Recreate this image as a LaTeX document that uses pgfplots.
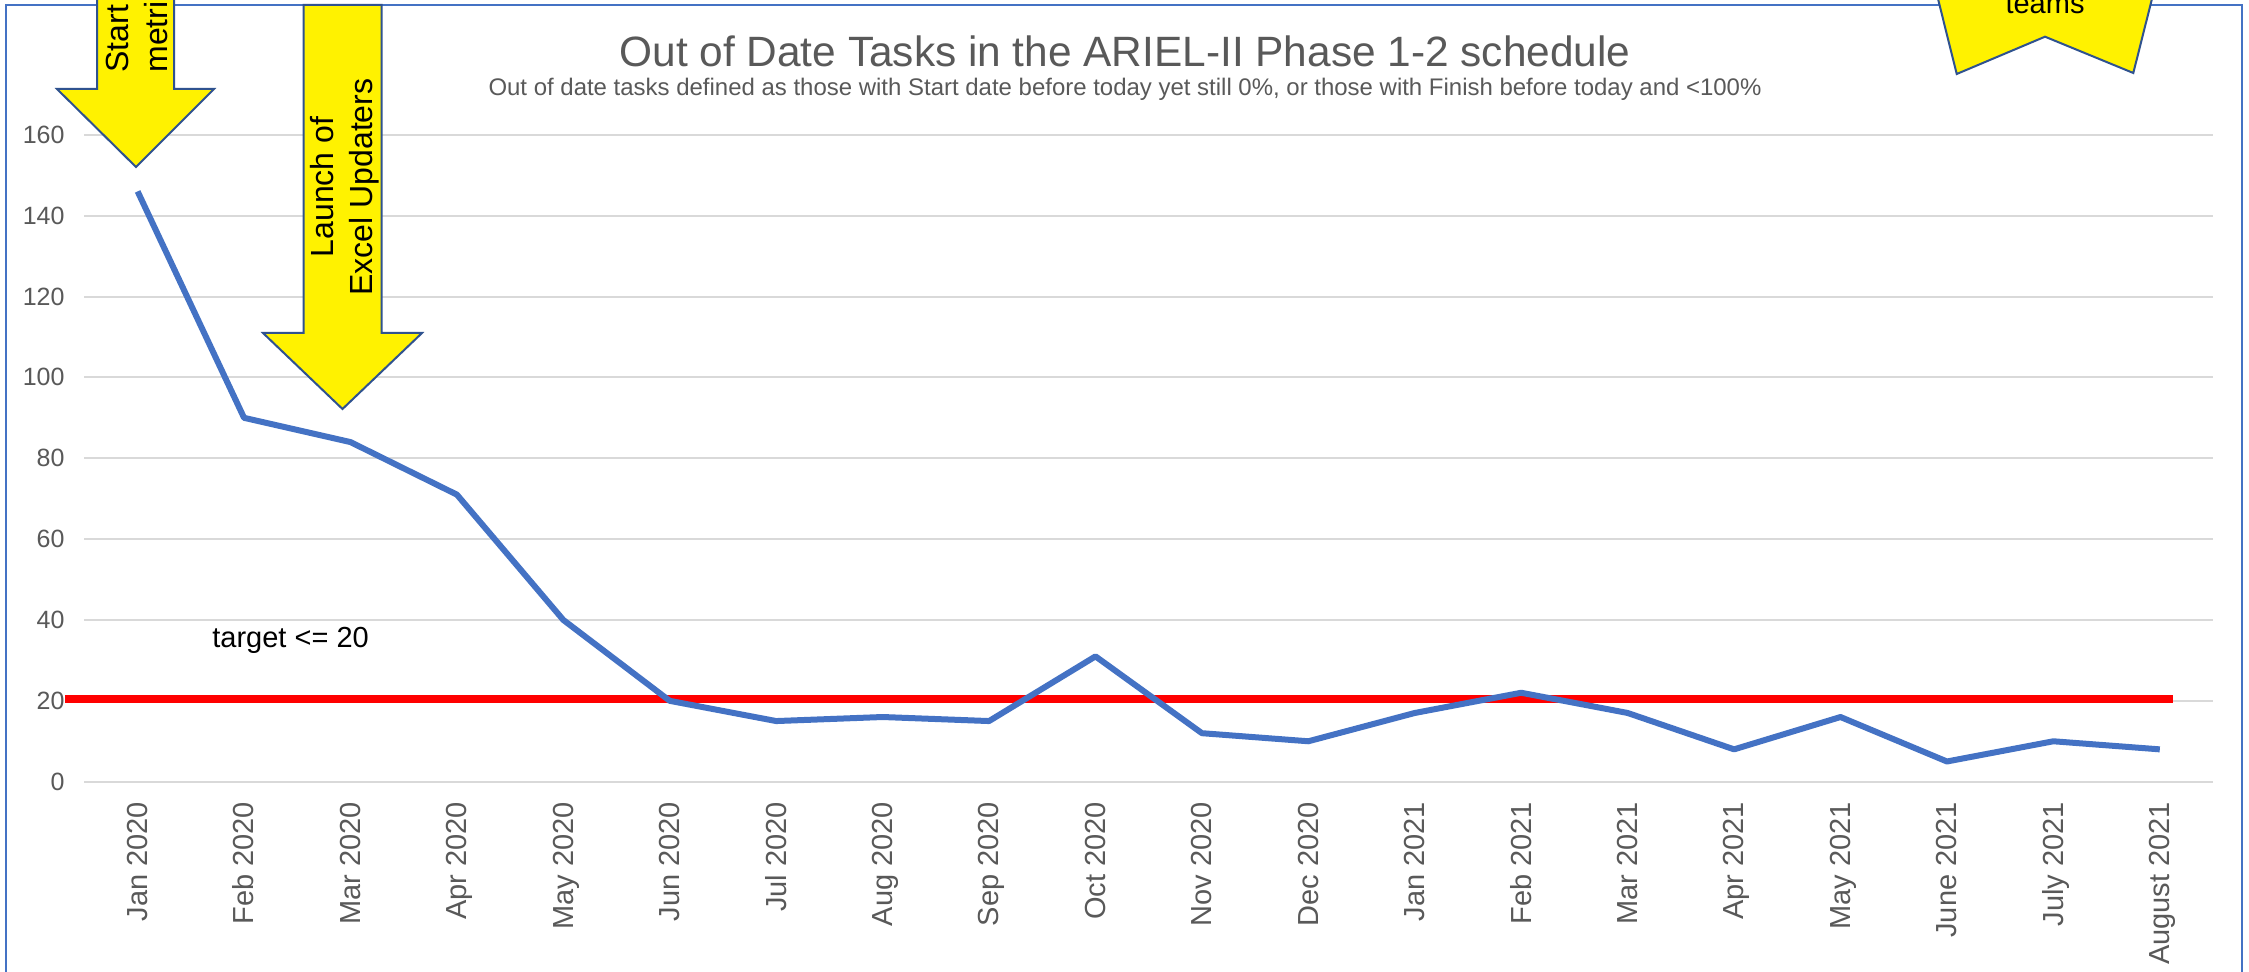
\documentclass[border=0pt]{standalone}
\usepackage{fontspec}
\setmainfont{Liberation Sans}
\usepackage{pgfplots}
\pgfplotsset{compat=1.18}
\definecolor{lineblue}{HTML}{4472C4}
\definecolor{gridgray}{HTML}{D9D9D9}
\definecolor{txtgray}{HTML}{595959}
\definecolor{outline}{HTML}{2F528F}
\begin{document}
\begin{tikzpicture}[x=0.5pt,y=0.5pt]
\useasboundingbox (0,0) rectangle (2249,971);
\fill[white] (0,0) rectangle (2249,971);
\draw[lineblue, line width=1pt] (6,-30) -- (6,966) -- (2242,966) -- (2242,-30);
\begin{axis}[at={(42.2pt,94.65pt)}, anchor=south west, scale only axis,
  width=1064.3pt, height=323.45pt,
  xmin=-0.5, xmax=19.5, ymin=0, ymax=160, clip=false,
  axis line style={draw=none}, major tick length=0pt,
  ymajorgrids, grid style={gridgray, line width=1pt},
  ytick={0,20,...,160}, yticklabels={0,20,40,60,80,100,120,140,160},
  xtick={0,...,19},
  xticklabels={Jan 2020, Feb 2020, Mar 2020, Apr 2020, May 2020, Jun 2020, Jul 2020, Aug 2020, Sep 2020, Oct 2020, Nov 2020, Dec 2020, Jan 2021, Feb 2021, Mar 2021, Apr 2021, May 2021, June 2021, July 2021, August 2021},
  /pgf/number format/assume math mode=true,
  yticklabel style={font=\fontsize{12.5pt}{12.5pt}\selectfont, text=txtgray, inner sep=0pt, anchor=east},
  yticklabel shift=9.75pt,
  xticklabel style={font=\fontsize{14.5pt}{14.5pt}\selectfont, text=txtgray, inner sep=0pt, rotate=90, anchor=east, text height=0.98em, text depth=0pt},
  xticklabel shift=10pt,
]
\addplot[red, line width=3.8pt, forget plot] coordinates {(-0.68,20.5) (19.12,20.5)};
\addplot[lineblue, line width=3pt, line join=round] coordinates {(0,146) (1,90) (2,84) (3,71) (4,40) (5,20) (6,15) (7,16) (8,15) (9,31) (10,12) (11,10) (12,17) (13,22) (14,17) (15,8) (16,16) (17,5) (18,10) (19,8)};
\end{axis}
\begin{scope}[shift={(0,971)}, y=-0.5pt]
\node[anchor=base west, inner sep=0pt, font=\fontsize{14.5pt}{14.5pt}\selectfont] at (212,647) {target <= 20};
\node[anchor=base, inner sep=0pt, text=txtgray] at (1125,67) {\resizebox{505.5pt}{!}{\fontsize{21pt}{21pt}\selectfont Out of Date Tasks in the ARIEL-II Phase 1-2 schedule}};
\node[anchor=base, inner sep=0pt, text=txtgray] at (1125,96) {\resizebox{636.5pt}{!}{\fontsize{11.4pt}{11.4pt}\selectfont Out of date tasks defined as those with Start date before today yet still 0\%, or those with Finish before today and <100\%}};
\draw[fill=yellow, draw=outline, line width=1pt] (97,-300) -- (97,89) -- (57,89) -- (136,167) -- (214,89) -- (174,89) -- (174,-300) -- cycle;
\node[rotate=90, align=center, inner sep=0pt, font=\fontsize{16pt}{19.5pt}\selectfont] at (137,21) {Start of\\metrics};
\draw[fill=yellow, draw=outline, line width=1pt] (303.5,5) -- (303.5,333) -- (263,333) -- (342.5,409) -- (422,333) -- (381.7,333) -- (381.7,5) -- cycle;
\node[rotate=90, align=center, inner sep=0pt, font=\fontsize{16pt}{19.5pt}\selectfont] at (345,187) {Launch of\\Excel Updaters};
\draw[fill=yellow, draw=outline, line width=1pt] (1933.3,-20) -- (1956.7,74) -- (2045,36.7) -- (2133.3,73) -- (2156.7,-20) -- cycle;
\node[anchor=base, inner sep=0pt, font=\fontsize{14.5pt}{14.5pt}\selectfont] at (2045,13.3) {teams};
\end{scope}
\end{tikzpicture}
\end{document}
